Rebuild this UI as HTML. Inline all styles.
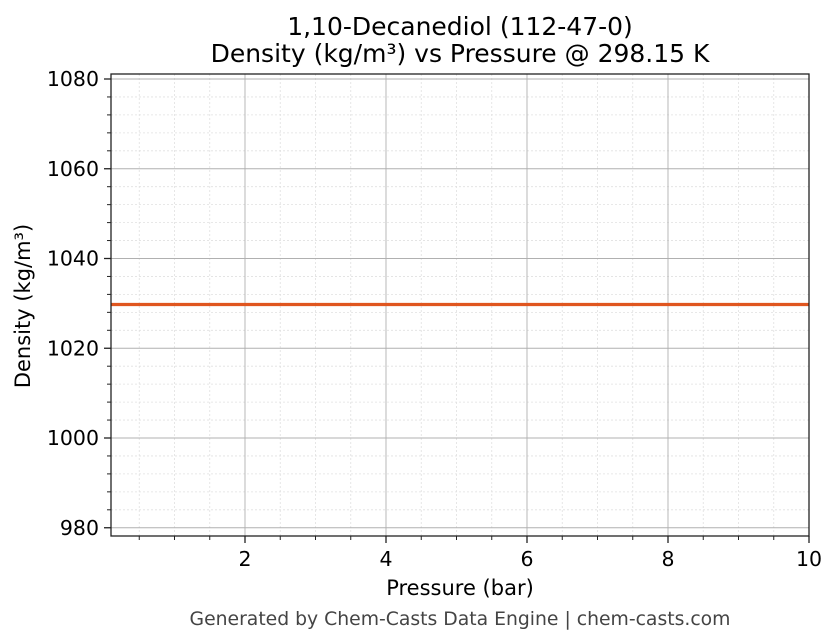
<!DOCTYPE html>
<html><head><meta charset="utf-8"><style>
html,body{margin:0;padding:0;background:#fff;}
svg{display:block;font-family:"DejaVu Sans","Liberation Sans",sans-serif;}
</style></head><body>
<svg width="836" height="644" viewBox="0 0 836 644" xmlns="http://www.w3.org/2000/svg">
<rect width="836" height="644" fill="#fff"/>
<g id="minor" stroke="#e0e0e0" stroke-width="0.8" stroke-dasharray="2,2"></g>
<g id="major" stroke="#b0b0b0" stroke-width="0.9"></g>
<line x1="111" y1="304.5" x2="809" y2="304.5" stroke="#e0561f" stroke-width="3.2"/>
<rect x="111" y="74" width="698" height="462" fill="none" stroke="#222" stroke-width="1.3"/>
<g id="ticks" stroke="#222"></g>
<g id="labels" font-size="20.5" fill="#000"></g>
<text x="460" y="35" font-size="25" text-anchor="middle">1,10-Decanediol (112-47-0)</text>
<text x="460" y="62" font-size="25" text-anchor="middle">Density (kg/m³) vs Pressure @ 298.15 K</text>
<text x="460" y="595" font-size="21" text-anchor="middle">Pressure (bar)</text>
<text transform="translate(30,306) rotate(-90)" font-size="21" text-anchor="middle">Density (kg/m³)</text>
<text x="460" y="625" font-size="18.8" fill="#444" text-anchor="middle">Generated by Chem-Casts Data Engine | chem-casts.com</text>
</svg>
<script>
const NS="http://www.w3.org/2000/svg";
function el(p,t,a,txt){const e=document.createElementNS(NS,t);for(const k in a)e.setAttribute(k,a[k]);if(txt!==undefined)e.textContent=txt;document.getElementById(p).appendChild(e);}
const X=v=>104+70.5*v, Y=v=>79+(1080-v)*4.4875;
for(let v=0.5;v<10;v+=0.5){const x=X(v);if(Math.abs(v%2)<1e-9)continue;el("minor","line",{x1:x,x2:x,y1:74,y2:536});el("ticks","line",{x1:x,x2:x,y1:536,y2:540,"stroke-width":1});}
for(let v=980;v<=1080;v+=4){const y=Y(v);if(v%20==0)continue;el("minor","line",{x1:111,x2:809,y1:y,y2:y});el("ticks","line",{x1:107,x2:111,y1:y,y2:y,"stroke-width":1});}
for(let v=2;v<=10;v+=2){const x=X(v);el("major","line",{x1:x,x2:x,y1:74,y2:536});el("ticks","line",{x1:x,x2:x,y1:536,y2:543,"stroke-width":1.3});el("labels","text",{x:x,y:566,"text-anchor":"middle"},String(v));}
for(let v=980;v<=1080;v+=20){const y=Y(v);el("major","line",{x1:111,x2:809,y1:y,y2:y});el("ticks","line",{x1:104,x2:111,y1:y,y2:y,"stroke-width":1.3});el("labels","text",{x:99,y:y+7,"text-anchor":"end"},String(v));}
</script>
</body></html>
